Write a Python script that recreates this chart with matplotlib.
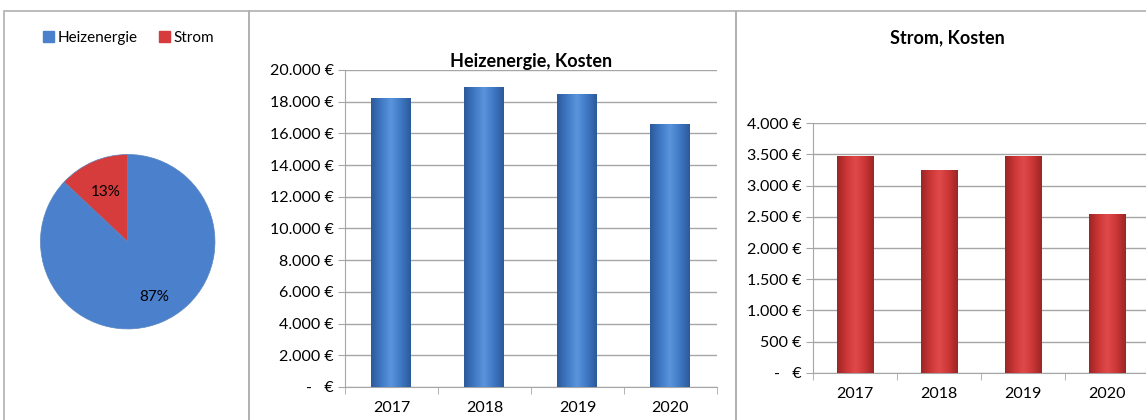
import matplotlib
matplotlib.use('Agg')
import matplotlib.pyplot as plt
import numpy as np
from matplotlib.patches import Rectangle, Patch
from matplotlib.colors import LinearSegmentedColormap
from matplotlib.ticker import FuncFormatter, MultipleLocator

# data
years = ['2017', '2018', '2019', '2020']
heiz_costs = [18210, 18950, 18470, 16570]
strom_costs = [3475, 3245, 3475, 2540]
pie_labels = ['Heizenergie', 'Strom']
pie_values = [87, 13]

BLUE = '#4a80cc'
RED = '#d63c3c'
GRID = '#a6a6a6'

plt.rcParams['font.family'] = ['Lato', 'DejaVu Sans']
plt.rcParams['font.size'] = 11.5


def euro(v, pos):
    if v == 0:
        return '-   €'
    return f'{int(v):,} €'.replace(',', '.')


def shaded_bars(ax, values, dark, mid, light):
    """Bars with a horizontal gradient, roughly like the Excel look"""
    cmap = LinearSegmentedColormap.from_list('g', [dark, mid, light, mid, dark])
    bars = ax.bar(range(len(values)), values, width=0.43, color=mid, zorder=2)
    grad = np.linspace(0, 1, 64).reshape(1, -1)
    for b in bars:
        x0, y0 = b.get_x(), b.get_y()
        w, h = b.get_width(), b.get_height()
        im = ax.imshow(grad, extent=(x0, x0 + w, y0, y0 + h), aspect='auto',
                       cmap=cmap, zorder=3, interpolation='bicubic')
        im.set_clip_path(b)
    return bars


def style_axis(ax, ymax, step):
    ax.set_xlim(-0.5, len(years) - 0.5)
    ax.set_ylim(0, ymax)
    ax.yaxis.set_major_locator(MultipleLocator(step))
    ax.yaxis.set_major_formatter(FuncFormatter(euro))
    ax.set_xticks(range(len(years)))
    ax.set_xticklabels(years)
    ax.set_xticks(np.arange(-0.5, len(years)), minor=True)
    ax.tick_params(axis='x', which='major', length=0, pad=10)
    ax.tick_params(axis='x', which='minor', length=5, color=GRID)
    ax.tick_params(axis='y', length=5, color=GRID, pad=3)
    ax.grid(axis='y', color=GRID, linewidth=1, zorder=0)
    ax.set_axisbelow(True)
    for s in ['top', 'right']:
        ax.spines[s].set_visible(False)
    for s in ['left', 'bottom']:
        ax.spines[s].set_color(GRID)


fig = plt.figure(figsize=(11.46, 4.2), dpi=100)

# panel frames
for x0, x1 in [(4, 249), (249, 736), (736, 1150)]:
    fig.patches.append(Rectangle((x0 / 1146, -0.1), (x1 - x0) / 1146, 1.1 - 11 / 420,
                                 transform=fig.transFigure, fill=False,
                                 edgecolor='#b0b0b0', linewidth=1.2))

# pie
ax_pie = fig.add_axes([0.0338, 0.2126, 0.1553, 0.4238])
wedges, texts = ax_pie.pie(pie_values, colors=[BLUE, RED], startangle=90,
                           counterclock=False, radius=1,
                           wedgeprops=dict(edgecolor='#5a86c0', linewidth=0.5))
ax_pie.text(0.3, -0.63, '87%', ha='center', va='center', fontsize=11)
ax_pie.text(-0.25, 0.57, '13%', ha='center', va='center', fontsize=11)
ax_pie.set_xlim(-1.02, 1.02)
ax_pie.set_ylim(-1.02, 1.02)
ax_pie.set_aspect('equal')
fig.legend([Patch(color=BLUE), Patch(color=RED)], pie_labels, loc='center',
           bbox_to_anchor=(129 / 1146, 1 - 38 / 420), ncol=2, frameon=False,
           handlelength=0.7, handleheight=0.7, handletextpad=0.25,
           columnspacing=1.4, fontsize=11)

# Heizenergie bars
ax_h = fig.add_axes([0.301, 0.0786, 0.3246, 0.7548])
shaded_bars(ax_h, heiz_costs, '#2d5a99', '#3f78c4', '#5b95dc')
style_axis(ax_h, 20000, 2000)
ax_h.set_title('Heizenergie, Kosten', fontweight='bold', fontsize=13, pad=-3)

# Strom bars
ax_s = fig.add_axes([0.7094, 0.1126, 0.2932, 0.5938])
shaded_bars(ax_s, strom_costs, '#9c2525', '#cc3636', '#e04a4a')
style_axis(ax_s, 4000, 500)
fig.text(947 / 1146, 1 - 38 / 420, 'Strom, Kosten', ha='center', va='center',
         fontweight='bold', fontsize=13)

fig.savefig('out.png', dpi=100, facecolor='white')
